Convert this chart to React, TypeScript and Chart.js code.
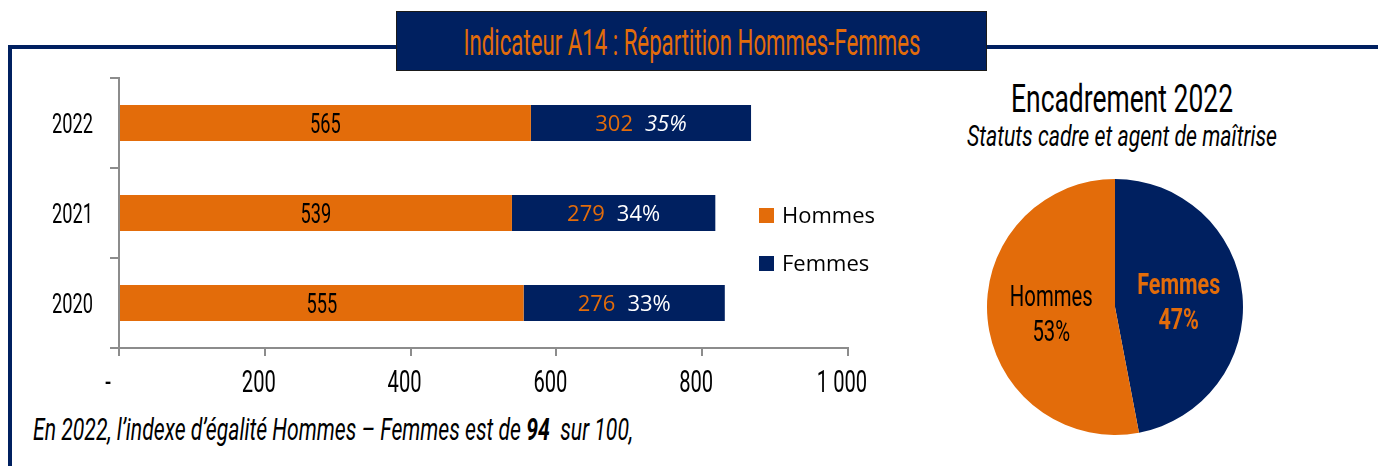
import React, { useEffect, useRef } from 'react';
import { Chart, registerables } from 'chart.js';
Chart.register(...registerables);

// ---- data ----
const years = ['2022', '2021', '2020'];
const hommes = [565, 539, 555];
const femmes = [302, 279, 276];
const femmesPct = ['35%', '34%', '33%'];
const femmesPctItalic = [true, false, false];
const xMin = 0;
const xMax = 1000;
const xStep = 200;
const pieLabels = ['Femmes', 'Hommes'];
const pieValues = [47, 53];
const piePctLabels = ['47%', '53%'];

const TITLE = 'Indicateur A14 : Répartition Hommes-Femmes';
const PIE_TITLE = 'Encadrement 2022';
const PIE_SUBTITLE = 'Statuts cadre et agent de maîtrise';
const NOTE_A = "En 2022, l\u2019indexe d\u2019égalité Hommes \u2013 Femmes est de ";
const NOTE_B = '94';
const NOTE_C = '  sur 100,';

// ---- styles ----
const ORANGE = '#E36C0A';
const NAVY = '#002060';
const AXIS = '#8C8C8C';
const COND = 'Roboto, "Liberation Sans", sans-serif';
const CAL = '"Open Sans", "Liberation Sans", sans-serif';
const SX = 0.65;

function fmtX(v: number): string {
  if (v === 0) return '-  ';
  if (v >= 1000) return `${Math.floor(v / 1000)} ${String(v % 1000).padStart(3, '0')}`;
  return String(v);
}

// draw text with its cap-height centred on capY, horizontally condensed
function condText(ctx: CanvasRenderingContext2D, text: string, x: number, capY: number, size: number, color: string, align: CanvasTextAlign = 'center', bold = false, sx = SX) {
  ctx.save();
  ctx.font = `${bold ? 'bold' : 'normal'} ${size}px ${COND}`;
  ctx.fillStyle = color;
  ctx.textAlign = align;
  ctx.textBaseline = 'alphabetic';
  ctx.translate(x, capY + size * 0.355);
  ctx.scale(sx, 1);
  ctx.fillText(text, 0, 0);
  ctx.restore();
}

const barTextPlugin = {
  id: 'barText',
  afterDraw(chart: any) {
    const ctx: CanvasRenderingContext2D = chart.ctx;
    const xs = chart.scales.x;
    const ys = chart.scales.y;
    const area = chart.chartArea;
    // y tick labels
    ys.ticks.forEach((_t: any, i: number) => {
      const y = ys.getPixelForTick(i);
      condText(ctx, String(chart.data.labels[i]), area.left - 26, y, 28, '#000', 'right');
    });
    // x tick labels
    xs.ticks.forEach((t: any) => {
      const x = xs.getPixelForValue(t.value) - 6;
      condText(ctx, fmtX(t.value), x, area.bottom + 33, 31, '#000', 'center');
    });
    // Hommes labels
    chart.getDatasetMeta(0).data.forEach((bar: any, i: number) => {
      const p = bar.getProps(['x', 'y', 'base'], true);
      condText(ctx, String(chart.data.datasets[0].data[i]), (p.x + p.base) / 2, p.y, 28, '#000');
    });
    // Femmes labels
    chart.getDatasetMeta(1).data.forEach((bar: any, i: number) => {
      const p = bar.getProps(['x', 'y', 'base'], true);
      const cx = (p.x + p.base) / 2;
      const num = String(chart.data.datasets[1].data[i]);
      const pct = femmesPct[i];
      ctx.save();
      ctx.textBaseline = 'alphabetic';
      ctx.textAlign = 'left';
      const size = 22;
      ctx.font = `${size}px ${CAL}`;
      const w1 = ctx.measureText(num).width;
      const pctFont = `${femmesPctItalic[i] ? 'italic ' : ''}${size}px ${CAL}`;
      ctx.font = pctFont;
      const w2 = ctx.measureText(pct).width;
      const gap = 12;
      const start = cx - (w1 + gap + w2) / 2;
      const by = p.y + size * 0.357;
      ctx.font = `${size}px ${CAL}`;
      ctx.fillStyle = ORANGE;
      ctx.fillText(num, start, by);
      ctx.font = pctFont;
      ctx.fillStyle = '#FFFFFF';
      ctx.fillText(pct, start + w1 + gap, by);
      ctx.restore();
    });
    // legend
    ctx.save();
    chart.data.datasets.forEach((ds: any, i: number) => {
      const top = 148 + i * 48;
      ctx.fillStyle = ds.backgroundColor;
      ctx.fillRect(739, top, 15, 15);
      ctx.fillStyle = '#000';
      ctx.font = `22px ${CAL}`;
      ctx.textAlign = 'left';
      ctx.textBaseline = 'alphabetic';
      ctx.fillText(ds.label, 762, top + 7.5 + 22 * 0.357);
    });
    ctx.restore();
  },
};

const pieLabelColors = [ORANGE, '#000000'];
const pieLabelBold = [true, false];

const pieTextPlugin = {
  id: 'pieText',
  afterDraw(chart: any) {
    const ctx: CanvasRenderingContext2D = chart.ctx;
    chart.getDatasetMeta(0).data.forEach((arc: any, i: number) => {
      const p = arc.tooltipPosition(true);
      const sx = pieLabelBold[i] ? 0.74 : 0.7;
      condText(ctx, String(chart.data.labels[i]), p.x, p.y - 17.5, 29, pieLabelColors[i], 'center', pieLabelBold[i], sx);
      condText(ctx, piePctLabels[i], p.x, p.y + 17.5, 29, pieLabelColors[i], 'center', pieLabelBold[i], sx);
    });
  },
};

export default function App() {
  const barRef = useRef<HTMLCanvasElement>(null);
  const pieRef = useRef<HTMLCanvasElement>(null);

  useEffect(() => {
    const bar = new Chart(barRef.current as HTMLCanvasElement, {
      type: 'bar',
      data: {
        labels: years,
        datasets: [
          { label: 'Hommes', data: hommes, backgroundColor: ORANGE, categoryPercentage: 1, barPercentage: 0.4 },
          { label: 'Femmes', data: femmes, backgroundColor: NAVY, categoryPercentage: 1, barPercentage: 0.4 },
        ],
      },
      options: {
        indexAxis: 'y',
        responsive: false,
        animation: false,
        layout: { padding: { top: 18, right: 52, left: 0, bottom: 0 } },
        plugins: { legend: { display: false }, tooltip: { enabled: false } },
        scales: {
          x: {
            stacked: true,
            min: xMin,
            max: xMax,
            ticks: { stepSize: xStep, display: false },
            grid: { drawOnChartArea: false, drawTicks: true, tickLength: 8, color: AXIS, lineWidth: 2 },
            border: { color: AXIS, width: 2 },
            afterFit: (s: any) => { s.height = 57; },
          },
          y: {
            stacked: true,
            ticks: { display: false },
            grid: { drawOnChartArea: false, drawTicks: true, tickLength: 9, color: AXIS, lineWidth: 2, offset: true },
            border: { color: AXIS, width: 2 },
            afterFit: (s: any) => { s.width = 99; },
          },
        },
      } as any,
      plugins: [barTextPlugin],
    });

    const pie = new Chart(pieRef.current as HTMLCanvasElement, {
      type: 'pie',
      data: {
        labels: pieLabels,
        datasets: [{ data: pieValues, backgroundColor: [NAVY, ORANGE], borderWidth: 0 }],
      },
      options: {
        responsive: false,
        animation: false,
        layout: { padding: 7 },
        plugins: { legend: { display: false }, tooltip: { enabled: false } },
      } as any,
      plugins: [pieTextPlugin],
    });

    return () => {
      bar.destroy();
      pie.destroy();
    };
  }, []);

  return (
    <div style={{ position: 'absolute', left: 0, top: 0, width: 1378, height: 466, background: '#fff', overflow: 'hidden' }}>
      <svg width={1378} height={466} style={{ position: 'absolute', left: 0, top: 0 }}>
        <line x1={8} y1={47} x2={1378} y2={47} stroke={NAVY} strokeWidth={4} />
        <line x1={10} y1={45} x2={10} y2={466} stroke={NAVY} strokeWidth={4} />
        <rect x={396.5} y={11.5} width={590} height={59} fill={NAVY} stroke="#1a1a1a" strokeWidth={1} />
        <text x={692} y={55} textAnchor="middle" textLength={457} lengthAdjust="spacingAndGlyphs" fontFamily="Roboto" fontSize={36} fill={ORANGE}>{TITLE}</text>
        <text x={1122} y={112} textAnchor="middle" textLength={222} lengthAdjust="spacingAndGlyphs" fontFamily="Roboto" fontSize={39} fill="#000">{PIE_TITLE}</text>
        <text x={1122} y={146} textAnchor="middle" textLength={310} lengthAdjust="spacingAndGlyphs" fontFamily="Roboto" fontStyle="italic" fontSize={30} fill="#000">{PIE_SUBTITLE}</text>
        <text x={33} y={440} textLength={600} lengthAdjust="spacingAndGlyphs" fontFamily="Roboto" fontStyle="italic" fontSize={31} fill="#000" style={{ whiteSpace: 'pre' }}>
          {NOTE_A}<tspan fontWeight="bold">{NOTE_B}</tspan>{NOTE_C}
        </text>
      </svg>
      <canvas ref={barRef} width={880} height={345} style={{ position: 'absolute', left: 20, top: 60 }} />
      <canvas ref={pieRef} width={270} height={270} style={{ position: 'absolute', left: 980, top: 172 }} />
    </div>
  );
}
